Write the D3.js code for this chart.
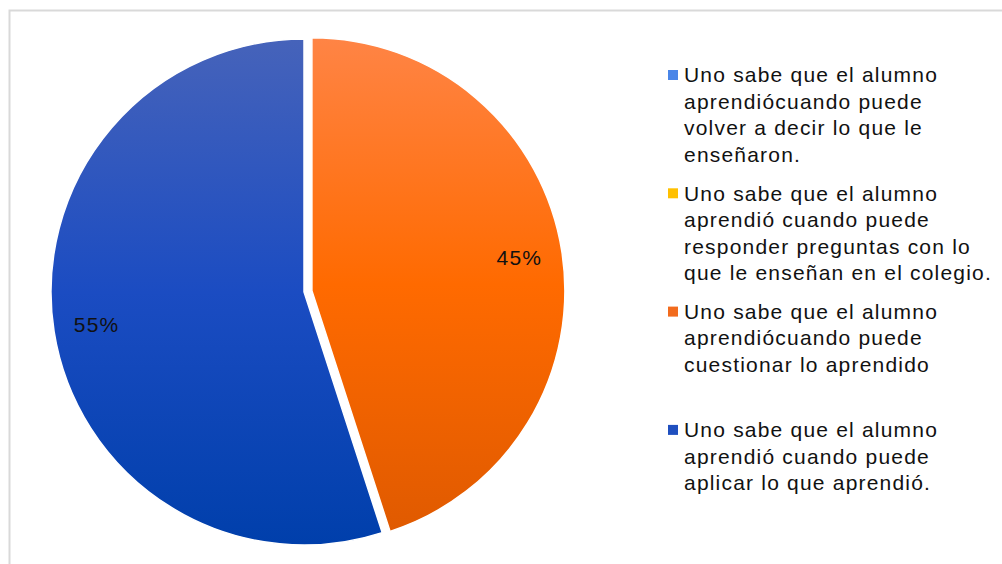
<!DOCTYPE html>
<meta charset="utf-8">
<style>

body {
  margin: 0;
  background: #fff;
}

text {
  font-family: "Liberation Sans", Arial, sans-serif;
  fill: #111;
}

.label {
  font-size: 21px;
  letter-spacing: 1.2px;
}

.legend text {
  font-size: 21px;
  letter-spacing: 1.2px;
}

</style>
<svg width="1002" height="564"></svg>
<script src="https://d3js.org/d3.v7.min.js"></script>
<script>

// legend entries, one array of lines per entry
var categories = [
  ["Uno sabe que el alumno", "aprendiócuando puede", "volver a decir lo que le", "enseñaron."],
  ["Uno sabe que el alumno", "aprendió cuando puede", "responder preguntas con lo", "que le enseñan en el colegio."],
  ["Uno sabe que el alumno", "aprendiócuando puede", "cuestionar lo aprendido"],
  ["Uno sabe que el alumno", "aprendió cuando puede", "aplicar lo que aprendió."]
];
var values = [0, 0, 45, 55];
var swatches = ["#4a86e8", "#ffc000", "#f26b1d", "#1f4fbf"];
var gradTop = ["#4a86e8", "#ffc000", "#ff8445", "#4663ba"];
var gradMid = ["#4a86e8", "#ffc000", "#ff6a00", "#1b4cc2"];
var gradBottom = ["#4a86e8", "#ffc000", "#e05a00", "#003fab"];

var svg = d3.select("svg"),
    cx = 304, cy = 292, radius = 253, explode = 8;

// chart frame
svg.append("rect")
    .attr("x", 9.5).attr("y", 10.5)
    .attr("width", 1100).attr("height", 700)
    .attr("fill", "none")
    .attr("stroke", "#d9d9d9")
    .attr("stroke-width", 2);

var defs = svg.append("defs");
values.forEach(function(v, i) {
  var g = defs.append("linearGradient")
      .attr("id", "grad" + i)
      .attr("x1", 0).attr("y1", 0).attr("x2", 0).attr("y2", 1);
  g.append("stop").attr("offset", "0%").attr("stop-color", gradTop[i]);
  g.append("stop").attr("offset", "50%").attr("stop-color", gradMid[i]);
  g.append("stop").attr("offset", "100%").attr("stop-color", gradBottom[i]);
});

var pie = d3.pie().sort(null).value(function(d) { return d; });
var arcs = pie(values).map(function(d, i) { d.index = i; return d; })
    .filter(function(d) { return d.value > 0; });

var arc = d3.arc().innerRadius(0).outerRadius(radius);
var labelArc = d3.arc().innerRadius(210).outerRadius(210);

var total = d3.sum(values);

var g = svg.append("g").attr("transform", "translate(" + cx + "," + cy + ")");

var slice = g.selectAll("g.slice")
  .data(arcs)
  .enter().append("g")
    .attr("class", "slice")
    .attr("transform", function(d) {
      if (d.index !== 2) return null;
      var a = (d.startAngle + d.endAngle) / 2;
      return "translate(" + (Math.sin(a) * explode) + "," + (-Math.cos(a) * explode) + ")";
    });

slice.append("path")
    .attr("d", arc)
    .attr("fill", function(d) { return "url(#grad" + d.index + ")"; })
    .attr("stroke", "#fff")
    .attr("stroke-width", 1.5);

slice.append("text")
    .attr("class", "label")
    .attr("transform", function(d) { return "translate(" + labelArc.centroid(d) + ")"; })
    .attr("text-anchor", "middle")
    .attr("dy", "0.35em")
    .text(function(d) { return Math.round(d.value / total * 100) + "%"; });

// legend
var legend = svg.append("g").attr("class", "legend")
    .attr("transform", "translate(668,75)");

var item = legend.selectAll("g")
  .data(categories)
  .enter().append("g")
    .attr("transform", function(d, i) { return "translate(0," + (i * 118.3) + ")"; });

item.append("rect")
    .attr("x", 0).attr("y", -5)
    .attr("width", 10).attr("height", 10)
    .attr("fill", function(d, i) { return swatches[i]; });

item.append("text")
    .attr("x", 16)
    .selectAll("tspan")
    .data(function(d) { return d; })
    .enter().append("tspan")
      .attr("x", 16)
      .attr("y", function(d, j) { return j * 26.5; })
      .attr("dy", "0.35em")
      .text(function(d) { return d; });

</script>
